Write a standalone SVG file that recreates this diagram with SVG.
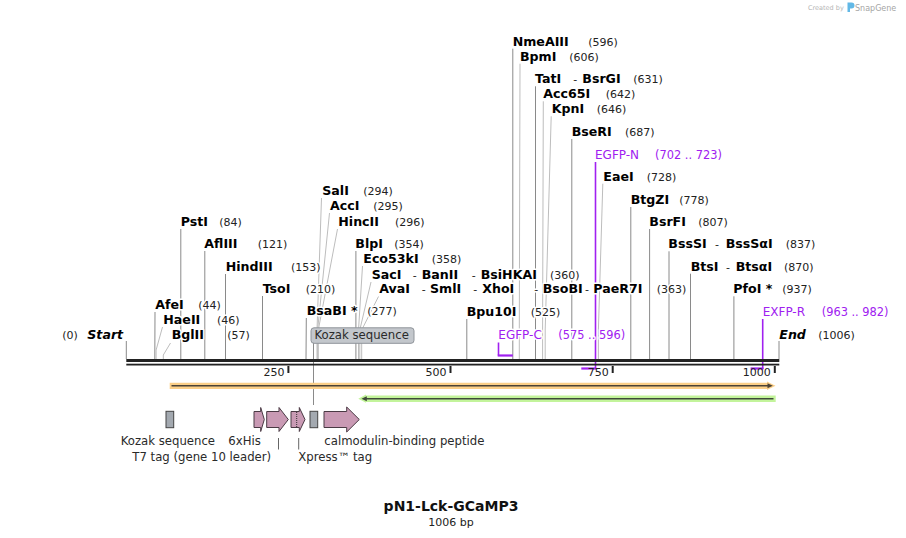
<svg xmlns="http://www.w3.org/2000/svg" width="906" height="538" viewBox="0 0 906 538">
<defs>
<style>
text{font-family:"DejaVu Sans",Verdana,sans-serif}
.n{font-size:12.6px;font-weight:bold;fill:#000}
.i{font-size:12.6px;font-weight:bold;font-style:italic;fill:#000}
.p{font-size:11px;fill:#222}
.h{paint-order:stroke;stroke:#fff;stroke-width:3px;stroke-linejoin:round}
.pr{font-size:12px;fill:#a020f0}
.pn{font-size:11.4px;fill:#a020f0}
.f{font-size:11.7px;fill:#2a2a2a}
.t{font-size:11px;fill:#222;text-anchor:end}
.sd{fill:none;stroke:#8a8a8a;stroke-width:1}
.sl{fill:none;stroke:#bdbdbd;stroke-width:1}
.pl{fill:none;stroke:#a020f0;stroke-width:1.6}
.ph{fill:none;stroke:#a020f0;stroke-width:2.2}
.pk{fill:#c99ab4;stroke:#4a3a44;stroke-width:1}
.gr{fill:#a3a9b0;stroke:#444;stroke-width:1}
.tk{stroke:#222;stroke-width:2}
</style>
</defs>
<rect width="906" height="538" fill="#fff"/>

<g id="watermark">
<text x="808" y="10" style="font-size:6.5px;fill:#b5b5b5">Created by</text>
<path d="M847.5,2.5 h4 a3,3 0 0 1 0,6 h-1.5 v3.5 h-2.5 z" fill="#62b8e6"/>
<text x="855" y="10.5" style="font-size:8px;fill:#a5a5a5">SnapGene</text>
</g>

<g id="connectors">
<line class="sd" x1="126.3" y1="341" x2="126.3" y2="359"/>
<line class="sd" x1="779" y1="341" x2="779" y2="359"/>
<line class="sd" x1="155" y1="312" x2="154.8" y2="359"/>
<polyline class="sl" points="162.5,327 156.1,350 156.1,359"/>
<polyline class="sl" points="170.5,343 163.3,355 163.3,359"/>
<line class="sd" x1="180.8" y1="229" x2="180.8" y2="359"/>
<line class="sd" x1="204.8" y1="251" x2="204.8" y2="359"/>
<line class="sd" x1="225.5" y1="274" x2="225.5" y2="359"/>
<line class="sd" x1="262.5" y1="296" x2="262.5" y2="359"/>
<line class="sd" x1="306.3" y1="318" x2="306" y2="359"/>
<polyline class="sl" points="321.5,198 317,330 317,359"/>
<polyline class="sl" points="329.5,213 317.6,330 317.6,359"/>
<polyline class="sl" points="337.5,229 318.3,330 318.3,359"/>
<line class="sd" x1="355.9" y1="251" x2="355.9" y2="359"/>
<polyline class="sl" points="362.5,266 358.5,330 358.5,359"/>
<polyline class="sl" points="371,282 359.8,330 359.8,359"/>
<polyline class="sl" points="378.5,296.5 361.7,330 361.7,359"/>
<line class="sd" x1="466.8" y1="319" x2="466.8" y2="359"/>
<line class="sd" x1="512.8" y1="48.7" x2="512.8" y2="359"/>
<polyline class="sl" points="520,63.7 519.3,330 519.3,359"/>
<line class="sd" x1="535.5" y1="86.3" x2="535.5" y2="359"/>
<polyline class="sl" points="543.3,101.3 542.6,330 542.6,359"/>
<polyline class="sl" points="551.2,116.3 545.2,330 545.2,359"/>
<line class="sd" x1="571.8" y1="139" x2="571.8" y2="359"/>
<polyline class="sl" points="602.8,183.7 598.4,330 598.4,359"/>
<line class="sd" x1="630.8" y1="207" x2="630.8" y2="359"/>
<line class="sd" x1="649.6" y1="229" x2="649.6" y2="359"/>
<line class="sd" x1="669" y1="251.3" x2="669" y2="359"/>
<line class="sd" x1="690.5" y1="273.7" x2="690.5" y2="359"/>
<line class="sd" x1="733.9" y1="296.3" x2="733.9" y2="359"/>
<line class="sd" x1="313.5" y1="343" x2="313.5" y2="405"/>
<line class="pl" x1="498.5" y1="342.5" x2="498.5" y2="355.5"/>
<line class="ph" x1="497.7" y1="355.5" x2="512.8" y2="355.5"/>
<line class="pl" x1="595.5" y1="162" x2="595.5" y2="369"/>
<line class="ph" x1="581.3" y1="368.5" x2="596.3" y2="368.5"/>
<line class="pl" x1="762.7" y1="319" x2="762.7" y2="369"/>
<line class="ph" x1="750.6" y1="368.5" x2="763.5" y2="368.5"/>
<line x1="278.5" y1="438" x2="278.5" y2="449.5" stroke="#666" stroke-width="1"/>
<line x1="298.7" y1="438" x2="298.7" y2="449.5" stroke="#666" stroke-width="1"/>
</g>

<g id="axis">
<rect x="126.3" y="359" width="653" height="3" fill="#222"/>
<rect x="126.3" y="363.7" width="653" height="1.8" fill="#222"/>
<line class="tk" x1="288.4" y1="366" x2="288.4" y2="373"/>
<line class="tk" x1="450.5" y1="366" x2="450.5" y2="373"/>
<line class="tk" x1="612.7" y1="366" x2="612.7" y2="373"/>
<line class="tk" x1="774.8" y1="366" x2="774.8" y2="373"/>
<text class="t" x="284.4" y="376">250</text>
<text class="t" x="446.5" y="376">500</text>
<text class="t" x="608.7" y="376">750</text>
<text class="t" x="770.8" y="376">1000</text>
</g>

<g id="orf-forward">
<polygon points="169.7,382.7 767,382.7 767,381.5 775.5,385.8 767,390.1 767,389 169.7,389" fill="#fbcf88"/>
<line x1="171.5" y1="385.8" x2="769" y2="385.8" stroke="#4b4337" stroke-width="1.6"/>
<polygon points="767.5,383.3 772.8,385.8 767.5,388.3" fill="#4b4337"/>
</g>
<g id="orf-reverse">
<polygon points="358.3,398.7 366,394.6 366,395.4 775.7,395.4 775.7,402 366,402 366,402.8" fill="#c3f49b"/>
<line x1="365" y1="398.7" x2="773.5" y2="398.7" stroke="#3f4a3a" stroke-width="1.6"/>
<polygon points="361.5,398.7 366.8,396.2 366.8,401.2" fill="#3f4a3a"/>
</g>

<g id="kozak-1">
<rect class="gr" x="166" y="411.3" width="7.7" height="16.4"/>
<text class="f" x="120.7" y="445">Kozak sequence</text>
</g>
<g id="his6">
<polygon class="pk" points="254,411.5 260.7,411.5 260.7,407.5 264.3,419.5 260.7,431.5 260.7,427.5 254,427.5"/>
<text class="f" x="228.3" y="445">6xHis</text>
</g>
<g id="t7-tag">
<polygon class="pk" points="266.7,411.5 279,411.5 279,407.5 288.3,419.5 279,431.5 279,427.5 266.7,427.5"/>
<text class="f" x="132.3" y="461">T7 tag (gene 10 leader)</text>
</g>
<g id="xpress-tag">
<polygon class="pk" points="291,411.5 299.3,411.5 299.3,407.5 305,419.5 299.3,431.5 299.3,427.5 291,427.5"/>
<line x1="296.7" y1="412" x2="296.7" y2="427" stroke="#333" stroke-width="1" stroke-dasharray="1,1"/>
<text class="f" x="298.3" y="461">Xpress™ tag</text>
</g>
<g id="kozak-2">
<rect class="gr" x="310" y="411.3" width="7.7" height="16.4"/>
<rect x="311" y="327.8" width="103" height="15.5" rx="3" fill="#c3c7cc" stroke="#8f949a" stroke-width="1"/>
<text class="f" x="314.5" y="339.3">Kozak sequence</text>
</g>
<g id="calmodulin">
<polygon class="pk" points="324,411.5 346.7,411.5 346.7,407 359.3,419.5 346.7,432 346.7,427.5 324,427.5"/>
<text class="f" x="324.3" y="445">calmodulin-binding peptide</text>
</g>

<g id="start"><text class="p h" x="62.3" y="338.5">(0)</text><text class="i h" x="87.3" y="338.5">Start</text></g>
<g id="end"><text class="i h" x="779.3" y="338.5">End</text><text class="p h" x="818.3" y="338.5">(1006)</text></g>

<g id="AfeI"><text class="n h" x="155.3" y="309">AfeI</text><text class="p h" x="198.3" y="309">(44)</text></g>
<g id="HaeII"><text class="n h" x="163.3" y="324">HaeII</text><text class="p h" x="217" y="324">(46)</text></g>
<g id="BglII"><text class="n h" x="171.7" y="339">BglII</text><text class="p h" x="227.3" y="339">(57)</text></g>
<g id="PstI"><text class="n h" x="180.7" y="225.7">PstI</text><text class="p h" x="219.3" y="225.7">(84)</text></g>
<g id="AflIII"><text class="n h" x="204.3" y="248.3">AflIII</text><text class="p h" x="257.7" y="248.3">(121)</text></g>
<g id="HindIII"><text class="n h" x="225.7" y="270.7">HindIII</text><text class="p h" x="291" y="270.7">(153)</text></g>
<g id="TsoI"><text class="n h" x="262.7" y="292.7">TsoI</text><text class="p h" x="305.7" y="292.7">(210)</text></g>
<g id="BsaBI"><text class="n h" x="306.7" y="315.3">BsaBI *</text><text class="p h" x="367.3" y="315.3">(277)</text></g>
<g id="SalI"><text class="n h" x="322.3" y="195.3">SalI</text><text class="p h" x="363.3" y="195.3">(294)</text></g>
<g id="AccI"><text class="n h" x="330" y="210.3">AccI</text><text class="p h" x="373.3" y="210.3">(295)</text></g>
<g id="HincII"><text class="n h" x="338.3" y="225.7">HincII</text><text class="p h" x="395" y="225.7">(296)</text></g>
<g id="BlpI"><text class="n h" x="355.3" y="248.3">BlpI</text><text class="p h" x="394.3" y="248.3">(354)</text></g>
<g id="Eco53kI"><text class="n h" x="363.3" y="263.3">Eco53kI</text><text class="p h" x="431.7" y="263.3">(358)</text></g>
<g id="SacI"><text class="n h" x="371.7" y="278.7">SacI</text><text class="p h" x="412.7" y="278.7">-</text><text class="n h" x="421.7" y="278.7">BanII</text><text class="p h" x="471.7" y="278.7">-</text><text class="n h" x="480.7" y="278.7">BsiHKAI</text><text class="p h" x="550" y="278.7">(360)</text></g>
<g id="AvaI"><text class="n h" x="379.3" y="293.3">AvaI</text><text class="p h" x="421.7" y="293.3">-</text><text class="n h" x="430" y="293.3">SmlI</text><text class="p h" x="473.3" y="293.3">-</text><text class="n h" x="482.3" y="293.3">XhoI</text><text class="p h" x="534.3" y="293.3">-</text><text class="n h" x="542.7" y="293.3">BsoBI</text><text class="p h" x="585" y="293.3">-</text><text class="n h" x="593.3" y="293.3">PaeR7I</text><text class="p h" x="656.7" y="293.3">(363)</text></g>
<g id="Bpu10I"><text class="n h" x="466.7" y="316">Bpu10I</text><text class="p h" x="530.7" y="316">(525)</text></g>
<g id="NmeAIII"><text class="n h" x="512.7" y="45.7">NmeAIII</text><text class="p h" x="588.3" y="45.7">(596)</text></g>
<g id="BpmI"><text class="n h" x="520" y="60.7">BpmI</text><text class="p h" x="569.3" y="60.7">(606)</text></g>
<g id="TatI"><text class="n h" x="535" y="83.3">TatI</text><text class="p h" x="573.3" y="83.3">-</text><text class="n h" x="582.3" y="83.3">BsrGI</text><text class="p h" x="633.3" y="83.3">(631)</text></g>
<g id="Acc65I"><text class="n h" x="543.3" y="98.3">Acc65I</text><text class="p h" x="605.7" y="98.3">(642)</text></g>
<g id="KpnI"><text class="n h" x="551.7" y="113.3">KpnI</text><text class="p h" x="596.7" y="113.3">(646)</text></g>
<g id="BseRI"><text class="n h" x="571.7" y="136">BseRI</text><text class="p h" x="625" y="136">(687)</text></g>
<g id="EaeI"><text class="n h" x="603.3" y="180.7">EaeI</text><text class="p h" x="646.7" y="180.7">(728)</text></g>
<g id="BtgZI"><text class="n h" x="630.7" y="204">BtgZI</text><text class="p h" x="679.3" y="204">(778)</text></g>
<g id="BsrFI"><text class="n h" x="649.3" y="226">BsrFI</text><text class="p h" x="698.3" y="226">(807)</text></g>
<g id="BssSI"><text class="n h" x="668.3" y="248.3">BssSI</text><text class="p h" x="715" y="248.3">-</text><text class="n h" x="725.7" y="248.3">BssSαI</text><text class="p h" x="785.7" y="248.3">(837)</text></g>
<g id="BtsI"><text class="n h" x="690.7" y="270.7">BtsI</text><text class="p h" x="726" y="270.7">-</text><text class="n h" x="735.7" y="270.7">BtsαI</text><text class="p h" x="784" y="270.7">(870)</text></g>
<g id="PfoI"><text class="n h" x="733.3" y="293.3">PfoI *</text><text class="p h" x="782.3" y="293.3">(937)</text></g>

<g id="EGFP-C"><text class="pr h" x="498.3" y="339">EGFP-C</text><text class="pn h" x="558.3" y="339">(575 .. 596)</text></g>
<g id="EGFP-N"><text class="pr h" x="595" y="159">EGFP-N</text><text class="pn h" x="655" y="159">(702 .. 723)</text></g>
<g id="EXFP-R"><text class="pr h" x="762.7" y="315.7">EXFP-R</text><text class="pn h" x="821.7" y="315.7">(963 .. 982)</text></g>

<g id="title">
<text x="451" y="511" text-anchor="middle" style="font-size:14px;font-weight:bold;fill:#111">pN1-Lck-GCaMP3</text>
<text x="451" y="525.5" text-anchor="middle" style="font-size:11px;fill:#222">1006 bp</text>
</g>
</svg>
